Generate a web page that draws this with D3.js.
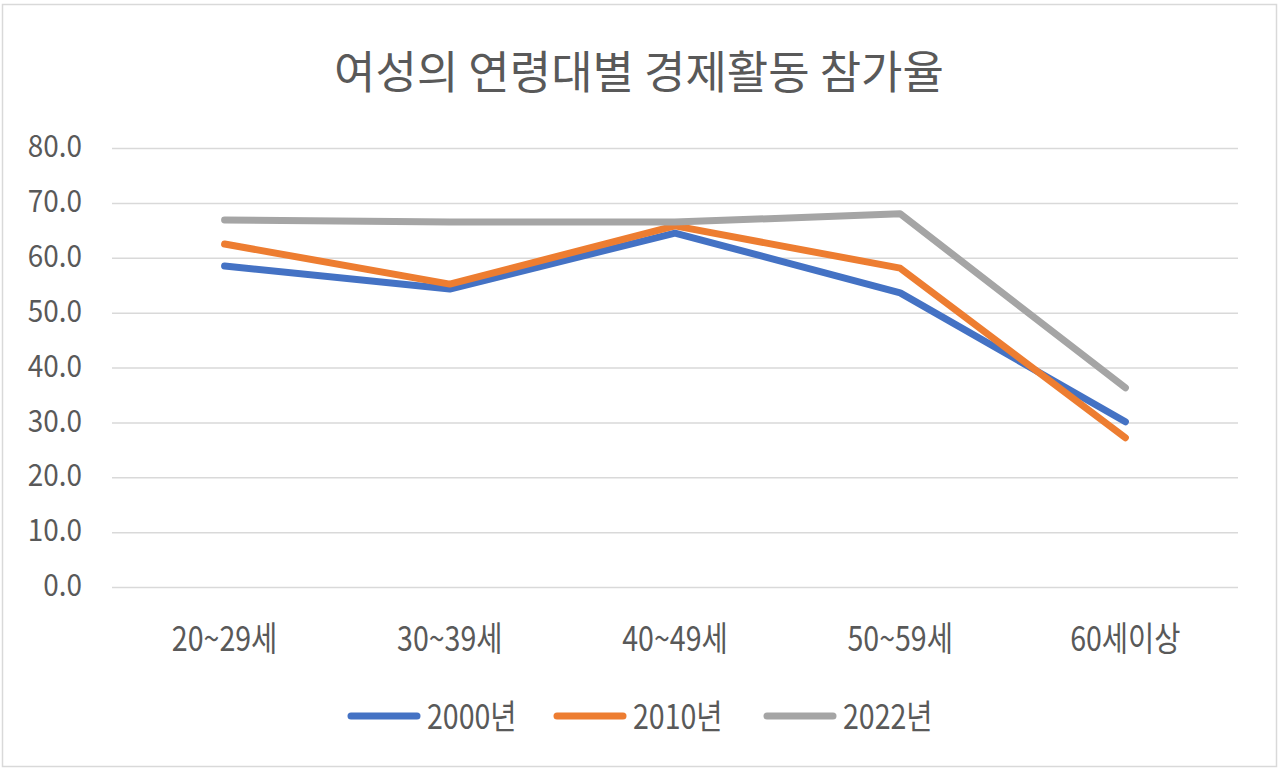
<!DOCTYPE html>
<html><head><meta charset="utf-8">
<script src="https://cdn.jsdelivr.net/npm/d3@7"></script>
<style>
html,body{margin:0;padding:0;background:#fff;}
svg{display:block;font-family:"Noto Sans CJK KR","Noto Sans",sans-serif;}
</style></head>
<body>
<svg id="chart" width="1280" height="775"></svg>
<script>
const categories = ["20~29세","30~39세","40~49세","50~59세","60세이상"];
const seriesNames = ["2000년","2010년","2022년"];
const values2000 = [58.5, 54.3, 64.5, 53.6, 30.1];
const values2010 = [62.5, 55.2, 65.8, 58.1, 27.2];
const values2022 = [66.9, 66.5, 66.5, 68.0, 36.3];
const yTicks = [0,10,20,30,40,50,60,70,80];
const colors = ["#4472C4","#ED7D31","#A5A5A5"];
const chartTitle = "여성의 연령대별 경제활동 참가율";

(function(){
const allValues = [values2000, values2010, values2022];
const svg = d3.select("#chart");
const textColor = "#595959";

svg.append("rect").attr("x",2.5).attr("y",4.5).attr("width",1274).attr("height",762)
  .attr("fill","#fff").attr("stroke","#d9d9d9").attr("stroke-width",1.5);

const pLeft = 112, pRight = 1238, pTop = 148, pBottom = 587;
const x = d3.scaleBand().domain(categories).range([pLeft,pRight]);
const y = d3.scaleLinear().domain([0,80]).range([pBottom,pTop]);

svg.append("text").attr("x",639).attr("y",89).attr("text-anchor","middle")
  .attr("font-size",45).attr("fill",textColor).text(chartTitle);

const ySx = 0.9;
const yAxis = d3.axisLeft(y).tickValues(yTicks).tickFormat(d3.format(".1f"))
  .tickSize(-(pRight-pLeft)).tickPadding(0);
const gy = svg.append("g").attr("transform",`translate(${pLeft},0)`).call(yAxis);
gy.select(".domain").remove();
gy.selectAll(".tick line").attr("stroke","#d9d9d9").attr("stroke-width",1.5);
gy.selectAll(".tick text").attr("font-size",31).attr("fill",textColor)
  .attr("font-family","'Noto Sans CJK KR',sans-serif")
  .attr("x",-30/ySx).attr("dy","0.28em").attr("transform",`scale(${ySx},1)`);

const xSx = 0.84;
const gx = svg.append("g").attr("transform",`translate(0,${pBottom})`)
  .call(d3.axisBottom(x).tickSize(0).tickPadding(0));
gx.select(".domain").remove();
gx.selectAll(".tick text").attr("font-size",34).attr("fill",textColor)
  .attr("font-family","'Noto Sans CJK KR',sans-serif")
  .attr("y",64).attr("dy",0).attr("transform",`scale(${xSx},1)`);

const line = d3.line().x((d,i)=>x(categories[i])+x.bandwidth()/2).y(d=>y(d));
allValues.forEach((vals,k)=>{
  svg.append("path").datum(vals).attr("d",line).attr("fill","none")
    .attr("stroke",colors[k]).attr("stroke-width",7)
    .attr("stroke-linecap","round").attr("stroke-linejoin","round");
});

const legendX = [351, 557, 767];
const lg = svg.append("g");
seriesNames.forEach((n,k)=>{
  lg.append("line").attr("x1",legendX[k]).attr("x2",legendX[k]+66)
    .attr("y1",716).attr("y2",716).attr("stroke",colors[k]).attr("stroke-width",7)
    .attr("stroke-linecap","round");
  lg.append("text").attr("x",(legendX[k]+76)/xSx).attr("y",729).attr("font-size",34)
    .attr("transform",`scale(${xSx},1)`)
    .attr("fill",textColor).text(n);
});
})();
</script>
</body></html>
